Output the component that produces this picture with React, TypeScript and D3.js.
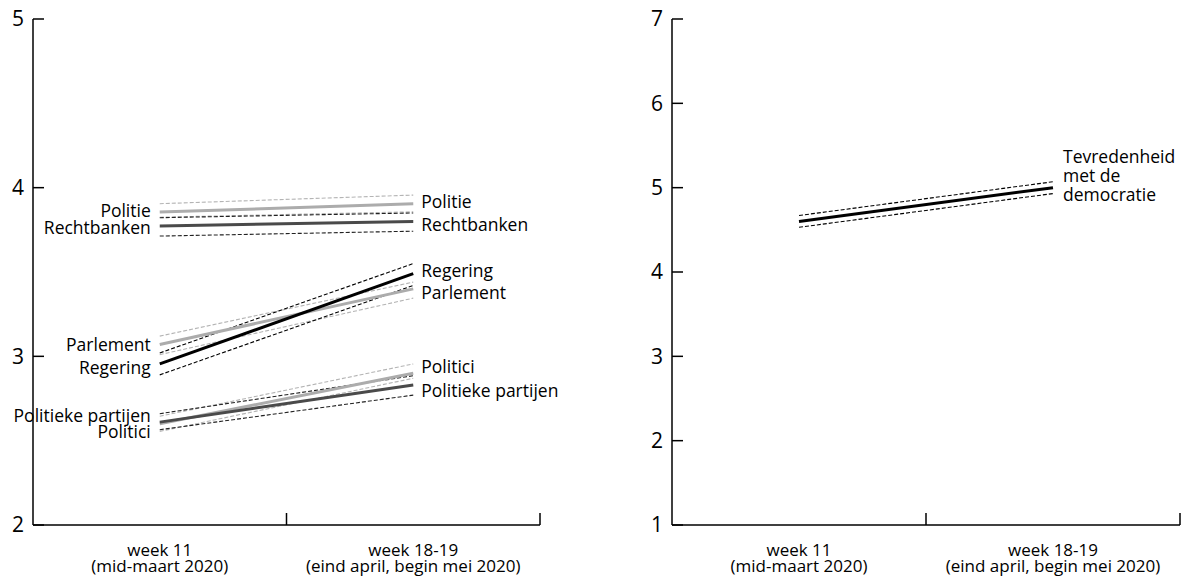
import React from "react";
import * as d3 from "d3";

const periods = ["week 11", "week 18-19"];
const periodSub = ["(mid-maart 2020)", "(eind april, begin mei 2020)"];

const series = ["Politie", "Rechtbanken", "Regering", "Parlement", "Politici", "Politieke partijen"];
const shade = ["light", "dark", "black", "light", "light", "dark"];
const meanW11 = [3.855, 3.772, 2.955, 3.07, 2.6, 2.61];
const meanW18 = [3.905, 3.8, 3.49, 3.4, 2.9, 2.83];
const loW11 = [3.825, 3.713, 2.89, 3.01, 2.555, 2.565];
const hiW11 = [3.905, 3.822, 3.02, 3.12, 2.645, 2.66];
const loW18 = [3.857, 3.742, 3.42, 3.345, 2.87, 2.77];
const hiW18 = [3.956, 3.85, 3.55, 3.44, 2.955, 2.885];
const leftLabelY = [3.86, 3.76, 2.93, 3.065, 2.551, 2.646];
const rightLabelY = [3.915, 3.78, 3.505, 3.375, 2.935, 2.795];

const demoMean = [4.6, 5.0];
const demoLo = [4.53, 4.93];
const demoHi = [4.67, 5.07];
const demoLabel = ["Tevredenheid", "met de", "democratie"];

const leftTicks = [2, 3, 4, 5];
const rightTicks = [1, 2, 3, 4, 5, 6, 7];

const colorOf: Record<string, string> = { black: "#000", dark: "#4a4a4a", light: "#acacac" };
const dashColorOf: Record<string, string> = { black: "#000", dark: "#222", light: "#b4b4b4" };

const FONT = "'Open Sans', sans-serif";

function Axes({ x0, x1, yTop, yBot, y, ticks, xs }: any) {
  const mid = (x0 + x1) / 2;
  return (
    <g>
      <line x1={x0} x2={x0} y1={yTop} y2={yBot} stroke="#000" strokeWidth={1.5} />
      <line x1={x0} x2={x1} y1={yBot} y2={yBot} stroke="#000" strokeWidth={1.5} />
      {ticks.map((t: number) => (
        <g key={t}>
          <line x1={x0} x2={x0 + 11} y1={y(t)} y2={y(t)} stroke="#000" strokeWidth={1.5} />
          <text x={x0 - 9} y={y(t)} dy="0.35em" textAnchor="end" fontSize={21} fontFamily={FONT}>
            {t}
          </text>
        </g>
      ))}
      {[mid, x1].map((tx, i) => (
        <line key={i} x1={tx} x2={tx} y1={yBot} y2={yBot - 12} stroke="#000" strokeWidth={1.5} />
      ))}
      {periods.map((p, i) => (
        <text key={p} x={xs(p)} y={yBot + 31} textAnchor="middle" fontSize={17} fontFamily={FONT}>
          <tspan x={xs(p)}>{p}</tspan>
          <tspan x={xs(p)} dy={15.5}>{periodSub[i]}</tspan>
        </text>
      ))}
    </g>
  );
}

export default function App() {
  const W = 1188, H = 576;
  const yTop = 19, yBot = 525;
  const xL = d3.scalePoint<string>().domain(periods).range([33, 540]).padding(0.5);
  const xR = d3.scalePoint<string>().domain(periods).range([672, 1180]).padding(0.5);
  const yL = d3.scaleLinear().domain([2, 5]).range([yBot, yTop]);
  const yR = d3.scaleLinear().domain([1, 7]).range([yBot, yTop]);
  const lineL = d3.line<number>().x((_, i) => xL(periods[i])!).y((v) => yL(v));
  const lineR = d3.line<number>().x((_, i) => xR(periods[i])!).y((v) => yR(v));

  const order = [0, 3, 4, 1, 5, 2];

  return (
    <svg width={W} height={H} style={{ position: "absolute", left: 0, top: 0, background: "#fff" }}>
      <Axes x0={33} x1={540} yTop={yTop} yBot={yBot} y={yL} ticks={leftTicks} xs={xL} />
      <Axes x0={672} x1={1180} yTop={yTop} yBot={yBot} y={yR} ticks={rightTicks} xs={xR} />
      {order.map((i) => (
        <g key={series[i]}>
          <path d={lineL([loW11[i], loW18[i]])!} stroke={dashColorOf[shade[i]]} strokeWidth={1.1} strokeDasharray="4 2" fill="none" />
          <path d={lineL([hiW11[i], hiW18[i]])!} stroke={dashColorOf[shade[i]]} strokeWidth={1.1} strokeDasharray="4 2" fill="none" />
        </g>
      ))}
      {order.map((i) => (
        <path key={series[i]} d={lineL([meanW11[i], meanW18[i]])!} stroke={colorOf[shade[i]]} strokeWidth={3} fill="none" />
      ))}
      {series.map((s, i) => (
        <g key={s} fontFamily={FONT} fontSize={17.5}>
          <text x={xL(periods[0])! - 9} y={yL(leftLabelY[i])} dy="0.35em" textAnchor="end">{s}</text>
          <text x={xL(periods[1])! + 8} y={yL(rightLabelY[i])} dy="0.35em" textAnchor="start">{s}</text>
        </g>
      ))}
      <path d={lineR(demoLo)!} stroke="#000" strokeWidth={1.1} strokeDasharray="4 2" fill="none" />
      <path d={lineR(demoHi)!} stroke="#000" strokeWidth={1.1} strokeDasharray="4 2" fill="none" />
      <path d={lineR(demoMean)!} stroke="#000" strokeWidth={3} fill="none" />
      <text x={xR(periods[1])! + 10} y={yR(5.29)} fontFamily={FONT} fontSize={17.5}>
        {demoLabel.map((t, k) => (
          <tspan key={k} x={xR(periods[1])! + 10} dy={k === 0 ? 0 : 19}>{t}</tspan>
        ))}
      </text>
    </svg>
  );
}
